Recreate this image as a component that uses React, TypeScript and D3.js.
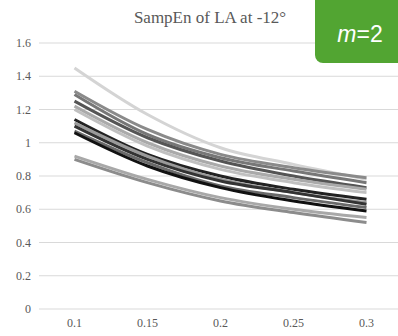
import React, { useEffect, useRef } from 'react';
import * as d3 from 'd3';

const W = 398;
const H = 336;

const categories = ['0.1', '0.15', '0.2', '0.25', '0.3'];
const yTicks = [0, 0.2, 0.4, 0.6, 0.8, 1, 1.2, 1.4, 1.6];

// one line per subject, drawn back to front
const s1 = [1.45, 1.17, 0.97, 0.87, 0.78];
const s2 = [1.31, 1.08, 0.93, 0.85, 0.79];
const s3 = [1.29, 1.05, 0.91, 0.83, 0.76];
const s4 = [1.25, 1.03, 0.89, 0.8, 0.73];
const s5 = [1.22, 1.0, 0.86, 0.78, 0.72];
const s6 = [1.2, 0.98, 0.84, 0.76, 0.7];
const s7 = [1.14, 0.93, 0.8, 0.72, 0.66];
const s8 = [1.12, 0.92, 0.78, 0.7, 0.64];
const s9 = [1.1, 0.9, 0.77, 0.7, 0.63];
const s10 = [1.07, 0.88, 0.74, 0.67, 0.61];
const s11 = [1.06, 0.86, 0.73, 0.65, 0.59];
const s12 = [0.92, 0.78, 0.67, 0.6, 0.55];
const s13 = [0.9, 0.76, 0.65, 0.58, 0.52];

const series = [s1, s2, s3, s4, s5, s6, s7, s8, s9, s10, s11, s12, s13];
const greys = ['#d4d4d4', '#8a8a8a', '#777', '#555', '#aaa', '#c0c0c0', '#222', '#9a9a9a',
	'#333', '#6a6a6a', '#111', '#a8a8a8', '#8c8c8c'];

const serif = '"Liberation Serif", "Times New Roman", serif';

const drawChart = (node) => {
	const svg = d3.select(node);
	svg.selectAll('*').remove();

	const x = d3.scaleBand().domain(categories)
		.range([38, 403]);
	const y = d3.scaleLinear().domain([0, 1.6])
		.range([309, 43]);

	svg.append('g')
		.selectAll('line')
		.data(yTicks)
		.join('line')
		.attr('x1', 39)
		.attr('x2', W)
		.attr('y1', (d) => y(d))
		.attr('y2', (d) => y(d))
		.attr('stroke', '#d9d9d9')
		.attr('stroke-width', 1);

	svg.append('g')
		.selectAll('text')
		.data(yTicks)
		.join('text')
		.attr('x', 31)
		.attr('y', (d) => y(d) + 4)
		.attr('text-anchor', 'end')
		.style('font-family', serif)
		.style('font-size', '12px')
		.attr('fill', '#595959')
		.text((d) => String(d));

	svg.append('g')
		.selectAll('text')
		.data(categories)
		.join('text')
		.attr('x', (d) => x(d) + (x.bandwidth() / 2))
		.attr('y', 327)
		.attr('text-anchor', 'middle')
		.style('font-family', serif)
		.style('font-size', '12px')
		.attr('fill', '#595959')
		.text((d) => d);

	const line = d3.line()
		.x((d, i) => x(categories[i]) + (x.bandwidth() / 2))
		.y((d) => y(d))
		.curve(d3.curveCatmullRom.alpha(0.5));

	svg.append('g')
		.selectAll('path')
		.data(series)
		.join('path')
		.attr('d', (d) => line(d))
		.attr('fill', 'none')
		.attr('stroke', (d, i) => greys[i])
		.attr('stroke-width', 3)
		.attr('stroke-linecap', 'butt');

	svg.append('text')
		.attr('x', 210)
		.attr('y', 23)
		.attr('text-anchor', 'middle')
		.style('font-family', serif)
		.style('font-size', '17px')
		.attr('fill', '#595959')
		.text('SampEn of LA at -12°');

	svg.append('rect')
		.attr('x', 315)
		.attr('y', -10)
		.attr('width', 100)
		.attr('height', 73)
		.attr('rx', 8)
		.attr('fill', '#52a532');

	const label = svg.append('text')
		.attr('x', 360)
		.attr('y', 42)
		.attr('text-anchor', 'middle')
		.style('font-family', '"Liberation Sans", Arial, sans-serif')
		.style('font-size', '23px')
		.attr('fill', '#fff');
	label.append('tspan').attr('font-style', 'italic')
		.text('m');
	label.append('tspan').text('=2');
};

const App = () => {
	const ref = useRef(null);

	useEffect(() => drawChart(ref.current), []);

	return (
		<svg ref={ ref } width={ W } height={ H } style={ { position: 'absolute', left: 0, top: 0 } }/>
	);
};

export default App;
